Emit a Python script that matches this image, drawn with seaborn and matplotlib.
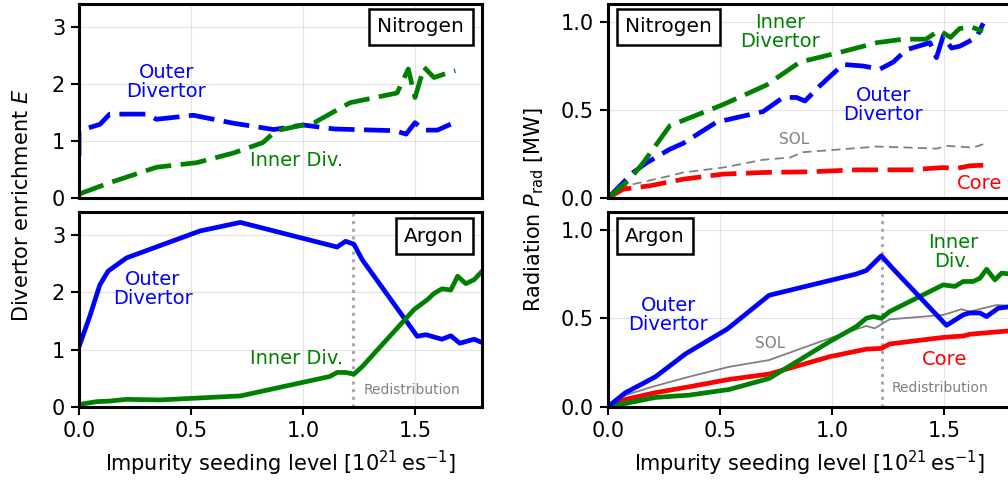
import numpy as np
import pandas as pd
import matplotlib
matplotlib.use("Agg")
import matplotlib.pyplot as plt
import seaborn as sns

# ---------------- data ----------------
# Nitrogen enrichment
n_out_x = [0.0, 0.0, 0.093, 0.137, 0.30, 0.346, 0.51, 0.69, 0.87, 1.0, 1.14, 1.41, 1.46, 1.50, 1.54, 1.60, 1.68]
n_out_E = [0.74, 1.18, 1.29, 1.47, 1.47, 1.38, 1.45, 1.31, 1.20, 1.28, 1.21, 1.18, 1.12, 1.32, 1.19, 1.19, 1.33]
n_in_x = [0.0, 0.137, 0.346, 0.525, 0.69, 0.82, 0.88, 1.05, 1.21, 1.42, 1.47, 1.50, 1.54, 1.585, 1.63, 1.68]
n_in_E = [0.07, 0.27, 0.54, 0.62, 0.79, 0.97, 1.18, 1.32, 1.67, 1.84, 2.26, 1.76, 2.29, 2.11, 2.17, 2.23]

# Argon enrichment
a_out_x = [0.0, 0.048, 0.093, 0.13, 0.212, 0.54, 0.72, 1.152, 1.19, 1.227, 1.264, 1.51, 1.548, 1.62, 1.66, 1.70, 1.764, 1.80]
a_out_E = [1.05, 1.58, 2.13, 2.37, 2.60, 3.07, 3.22, 2.79, 2.89, 2.84, 2.57, 1.23, 1.26, 1.18, 1.24, 1.11, 1.18, 1.12]
a_in_x = [0.0, 0.078, 0.137, 0.212, 0.361, 0.72, 1.12, 1.152, 1.19, 1.227, 1.264, 1.496, 1.555, 1.585, 1.62, 1.66, 1.69, 1.727, 1.764, 1.80]
a_in_E = [0.04, 0.09, 0.10, 0.13, 0.12, 0.19, 0.53, 0.60, 0.60, 0.57, 0.70, 1.70, 1.87, 1.98, 2.06, 2.04, 2.28, 2.15, 2.22, 2.37]

# Nitrogen radiation [MW]
nr_in_x = [0.0, 0.098, 0.158, 0.277, 0.396, 0.515, 0.708, 0.857, 1.05, 1.2, 1.32, 1.42, 1.48, 1.53, 1.57, 1.62, 1.675]
nr_in_P = [0.0, 0.107, 0.20, 0.41, 0.47, 0.53, 0.64, 0.77, 0.83, 0.88, 0.90, 0.90, 0.95, 0.91, 0.96, 0.97, 0.945]
nr_out_x = [0.0, 0.113, 0.173, 0.277, 0.336, 0.485, 0.693, 0.783, 0.842, 0.88, 0.946, 1.05, 1.14, 1.214, 1.274, 1.333, 1.438, 1.467, 1.497, 1.534, 1.571, 1.646, 1.676]
nr_out_P = [0.0, 0.145, 0.20, 0.277, 0.31, 0.43, 0.49, 0.57, 0.57, 0.55, 0.635, 0.757, 0.748, 0.73, 0.77, 0.84, 0.88, 0.795, 0.917, 0.85, 0.86, 0.91, 0.99]
nr_sol_x = [0.0, 0.083, 0.277, 0.336, 0.515, 0.693, 0.813, 0.872, 1.05, 1.2, 1.348, 1.467, 1.512, 1.63, 1.676]
nr_sol_P = [0.0, 0.07, 0.126, 0.145, 0.173, 0.217, 0.23, 0.26, 0.277, 0.292, 0.286, 0.28, 0.296, 0.286, 0.305]
nr_core_x = [0.0, 0.068, 0.188, 0.336, 0.515, 0.693, 0.9, 1.11, 1.348, 1.438, 1.497, 1.557, 1.616, 1.676]
nr_core_P = [0.0, 0.05, 0.07, 0.107, 0.136, 0.145, 0.149, 0.16, 0.16, 0.168, 0.173, 0.168, 0.183, 0.186]

# Argon radiation [MW]
ar_out_x = [0.0, 0.079, 0.169, 0.213, 0.348, 0.534, 0.72, 1.109, 1.154, 1.221, 1.273, 1.512, 1.587, 1.616, 1.661, 1.691, 1.743, 1.80]
ar_out_P = [0.0, 0.08, 0.14, 0.17, 0.30, 0.44, 0.63, 0.75, 0.77, 0.853, 0.78, 0.46, 0.52, 0.53, 0.53, 0.51, 0.557, 0.566]
ar_in_x = [0.0, 0.094, 0.213, 0.363, 0.542, 0.72, 0.99, 1.109, 1.154, 1.184, 1.221, 1.258, 1.497, 1.549, 1.587, 1.631, 1.661, 1.691, 1.728, 1.758, 1.80]
ar_in_P = [0.0, 0.023, 0.053, 0.066, 0.098, 0.16, 0.368, 0.453, 0.50, 0.51, 0.50, 0.538, 0.689, 0.68, 0.708, 0.708, 0.726, 0.777, 0.717, 0.755, 0.75]
ar_sol_x = [0.0, 0.079, 0.199, 0.363, 0.542, 0.72, 0.99, 1.154, 1.191, 1.258, 1.497, 1.579, 1.616, 1.676, 1.736, 1.80]
ar_sol_P = [0.0, 0.066, 0.113, 0.17, 0.226, 0.264, 0.387, 0.457, 0.443, 0.494, 0.519, 0.551, 0.538, 0.557, 0.575, 0.57]
ar_core_x = [0.0, 0.079, 0.213, 0.363, 0.542, 0.72, 0.99, 1.154, 1.221, 1.258, 1.497, 1.587, 1.616, 1.80]
ar_core_P = [0.0, 0.042, 0.08, 0.113, 0.155, 0.185, 0.283, 0.326, 0.33, 0.355, 0.392, 0.40, 0.41, 0.43]

redistribution_x = 1.224
x_ticks = [0.0, 0.5, 1.0, 1.5]

# ---------------- style ----------------
sns.set_theme(style="whitegrid")
plt.rcParams["font.family"] = ["DejaVu Sans"]
plt.rcParams.update({
    "text.color": "black",
    "axes.labelcolor": "black",
    "axes.edgecolor": "black",
    "axes.linewidth": 2.2,
    "grid.color": "#e3e3e3",
    "grid.linewidth": 0.8,
    "xtick.color": "black",
    "ytick.color": "black",
    "xtick.labelcolor": "black",
    "ytick.labelcolor": "black",
    "xtick.major.size": 6,
    "ytick.major.size": 6,
    "xtick.major.width": 1.5,
    "ytick.major.width": 1.5,
    "xtick.bottom": True,
    "ytick.left": True,
    "mathtext.fontset": "dejavusans",
})

fig = plt.figure(figsize=(10.08, 4.82), dpi=100)
L0, LW = 0.0784, 0.400
R0, RW = 0.603, 0.400
TB, TH = 0.589, 0.403
BB, BH = 0.156, 0.404
ax_nE = fig.add_axes([L0, TB, LW, TH])
ax_aE = fig.add_axes([L0, BB, LW, BH])
ax_nP = fig.add_axes([R0, TB, RW, TH])
ax_aP = fig.add_axes([R0, BB, RW, BH])

LW_MAIN = 3.4
DASH = (5.5, 2.0)

def line(ax, x, y, color, lw=LW_MAIN, dashed=False, dash=DASH):
    df = pd.DataFrame({"x": x, "y": y})
    sns.lineplot(data=df, x="x", y="y", ax=ax, color=color, lw=lw,
                 sort=False, estimator=None)
    if dashed:
        ax.lines[-1].set_dashes(dash)
        ax.lines[-1].set_dash_capstyle("butt")

BLUE, GREEN, RED, GREY = "#0000ff", "#008000", "#ff0000", "#808080"
FS = 15
AFS = 14

# Nitrogen enrichment
line(ax_nE, n_out_x, n_out_E, BLUE, dashed=True)
line(ax_nE, n_in_x, n_in_E, GREEN, dashed=True)
ax_nE.text(0.39, 2.03, "Outer\nDivertor", color=BLUE, fontsize=AFS, ha="center", va="center", linespacing=1.0)
ax_nE.text(0.97, 0.65, "Inner Div.", color=GREEN, fontsize=AFS, ha="center", va="center")

# Argon enrichment
line(ax_aE, a_out_x, a_out_E, BLUE)
line(ax_aE, a_in_x, a_in_E, GREEN)
ax_aE.text(0.33, 2.06, "Outer\nDivertor", color=BLUE, fontsize=AFS, ha="center", va="center", linespacing=1.0)
ax_aE.text(0.97, 0.84, "Inner Div.", color=GREEN, fontsize=AFS, ha="center", va="center")

# Nitrogen radiation
line(ax_nP, nr_sol_x, nr_sol_P, GREY, lw=1.3, dashed=True, dash=(5, 3))
line(ax_nP, nr_core_x, nr_core_P, RED, dashed=True)
line(ax_nP, nr_out_x, nr_out_P, BLUE, dashed=True)
line(ax_nP, nr_in_x, nr_in_P, GREEN, dashed=True)
ax_nP.text(0.77, 0.94, "Inner\nDivertor", color=GREEN, fontsize=AFS, ha="center", va="center", linespacing=1.0)
ax_nP.text(1.23, 0.53, "Outer\nDivertor", color=BLUE, fontsize=AFS, ha="center", va="center", linespacing=1.0)
ax_nP.text(0.83, 0.33, "SOL", color=GREY, fontsize=11, ha="center", va="center")
ax_nP.text(1.66, 0.08, "Core", color=RED, fontsize=AFS, ha="center", va="center")

# Argon radiation
line(ax_aP, ar_sol_x, ar_sol_P, GREY, lw=1.3)
line(ax_aP, ar_core_x, ar_core_P, RED)
line(ax_aP, ar_in_x, ar_in_P, GREEN)
line(ax_aP, ar_out_x, ar_out_P, BLUE)
ax_aP.text(0.27, 0.52, "Outer\nDivertor", color=BLUE, fontsize=AFS, ha="center", va="center", linespacing=1.0)
ax_aP.text(0.725, 0.355, "SOL", color=GREY, fontsize=11, ha="center", va="center")
ax_aP.text(1.54, 0.875, "Inner\nDiv.", color=GREEN, fontsize=AFS, ha="center", va="center", linespacing=1.0)
ax_aP.text(1.505, 0.27, "Core", color=RED, fontsize=AFS, ha="center", va="center")

for ax in (ax_aE, ax_aP):
    ax.axvline(redistribution_x, color="#aaaaaa", lw=2.2, ls=(0, (1, 1.5)), zorder=1)
ax_aE.text(redistribution_x + 0.045, 0.3, "Redistribution", color=GREY, fontsize=10, ha="left", va="center")
ax_aP.text(redistribution_x + 0.045, 0.107, "Redistribution", color=GREY, fontsize=10, ha="left", va="center")

box = dict(boxstyle="square,pad=0.42", fc="white", ec="black", lw=1.8)
BFS = 14.5
ax_nE.text(0.955, 0.93, "Nitrogen", transform=ax_nE.transAxes, ha="right", va="top", fontsize=BFS, bbox=box)
ax_aE.text(0.955, 0.925, "Argon", transform=ax_aE.transAxes, ha="right", va="top", fontsize=BFS, bbox=box)
ax_nP.text(0.043, 0.93, "Nitrogen", transform=ax_nP.transAxes, ha="left", va="top", fontsize=BFS, bbox=box)
ax_aP.text(0.043, 0.925, "Argon", transform=ax_aP.transAxes, ha="left", va="top", fontsize=BFS, bbox=box)

for ax in (ax_nE, ax_aE, ax_nP, ax_aP):
    ax.set_xlim(0, 1.8)
    ax.set_xticks(x_ticks)
    ax.set_xlabel("")
    ax.set_ylabel("")
    ax.tick_params(labelsize=FS, pad=4, colors="black")
    ax.grid(True)
    for s in ax.spines.values():
        s.set_color("black")
        s.set_linewidth(2.2)

for ax in (ax_nE, ax_aE):
    ax.set_ylim(0, 3.4)
    ax.set_yticks([0, 1, 2, 3])
for ax in (ax_nP, ax_aP):
    ax.set_ylim(0, 1.1)
    ax.set_yticks([0.0, 0.5, 1.0])
    ax.set_yticklabels(["0.0", "0.5", "1.0"])

for ax in (ax_nE, ax_nP):
    ax.tick_params(axis="x", bottom=False, labelbottom=False)

for ax in (ax_aE, ax_aP):
    ax.set_xticklabels(["0.0", "0.5", "1.0", "1.5"])
    ax.set_xlabel(r"Impurity seeding level [$10^{21}\,$es$^{-1}$]", fontsize=FS, labelpad=6, color="black")

fig.text(0.022, 0.575, r"Divertor enrichment $E$", rotation=90, fontsize=FS, ha="center", va="center", color="black")
fig.text(0.530, 0.565, r"Radiation $P_{\rm rad}$ [MW]", rotation=90, fontsize=FS, ha="center", va="center", color="black")

fig.savefig("out.png", dpi=100)
